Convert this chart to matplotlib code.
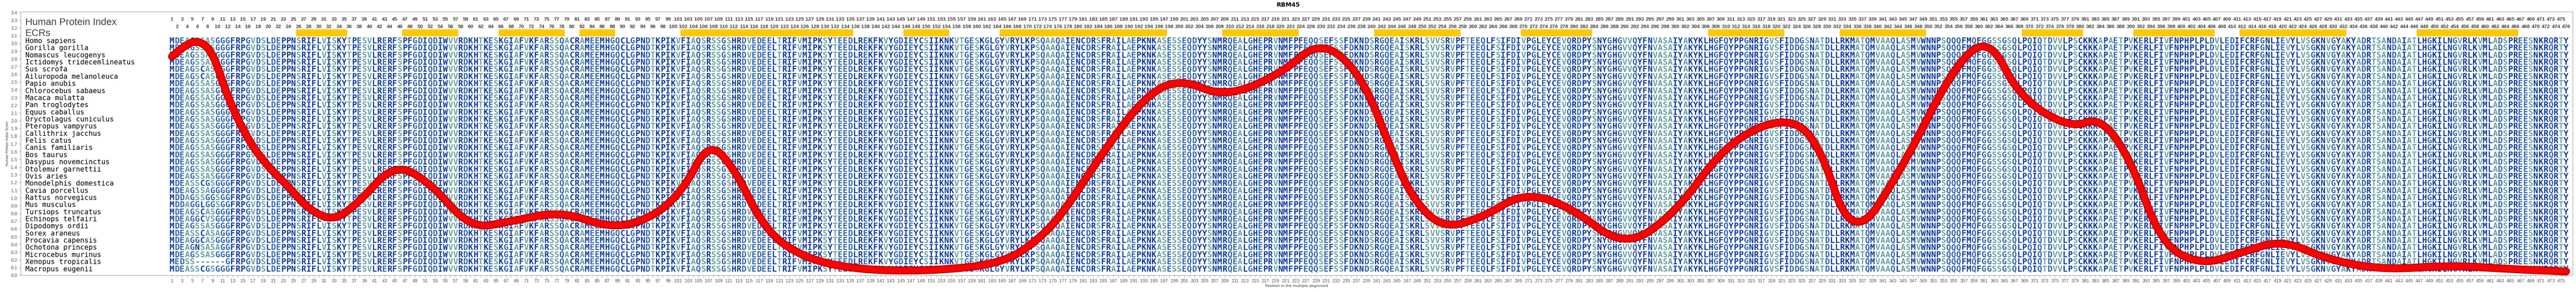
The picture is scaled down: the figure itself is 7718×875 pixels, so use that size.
import matplotlib
matplotlib.use("Agg")
import matplotlib.pyplot as plt
from matplotlib.path import Path
from matplotlib.patches import PathPatch, Rectangle

# alignment columns (human numbering, 225-226 absent)
positions = list(range(1, 225)) + list(range(227, 477))

human = ("MDEAGSSASGGGFRPGVDSLDEPPNSRIFLVISKYTPESVLRERFSPFGDIQDIWVVRDKHTKESKGIAFVKFARSSQ"
         "ACRAMEEMHGQCLGPNDTKPIKVFIAQSRSSGSHRDVEDEELTRIFVMIPKSYTEEDLREKFKVYGDIEYCSIIKNKV"
         "TGESKGLGYVRYLKPSQAAQAIENCDRSFRAILAEPKNKASESSEQDYYSNMRQEALGHEPRVNMFPFEQQSEFSSFDK"
         "NDSRGQEAISKRLSVVSRVPFTEEQLFSIFDIVPGLEYCEVQRDPYSNYGHGVVQYFNVASAIYAKYKLHGFQYPPGN"
         "RIGVSFIDDGSNATDLLRKMATQMVAAQLASMVWNNPSQQQFMQFGGSSGSQLPQIQTDVVLPSCKKKAPAETPVKERL"
         "FIVFNPHPLPLDVLEDIFCRFGNLIEVYLVSGKNVGYAKYADRTSANDAIATLHGKILNGVRLKVMLADSPREESNKRQRTY")

species = ["Homo sapiens", "Gorilla gorilla", "Nomascus leucogenys", "Ictidomys tridecemlineatus",
           "Sus scrofa", "Ailuropoda melanoleuca", "Papio anubis", "Chlorocebus sabaeus",
           "Macaca mulatta", "Pan troglodytes", "Equus caballus", "Oryctolagus cuniculus",
           "Pteropus vampyrus", "Callithrix jacchus", "Felis catus", "Canis familiaris",
           "Bos taurus", "Dasypus novemcinctus", "Otolemur garnettii", "Ovis aries",
           "Monodelphis domestica", "Cavia porcellus", "Rattus norvegicus", "Mus musculus",
           "Tursiops truncatus", "Echinops telfairi", "Dipodomys ordii", "Sorex araneus",
           "Procavia capensis", "Ochotona princeps", "Microcebus murinus", "Xenopus tropicalis",
           "Macropus eugenii"]

# N-terminal residues that differ from human
heads = {
    "Sus scrofa": "MDEAGSCASGGGF", "Ailuropoda melanoleuca": "MDEAGSCASGGGF",
    "Monodelphis domestica": "MDEASSCGSGGGF", "Cavia porcellus": "MDEAGSSAGGGGF",
    "Rattus norvegicus": "MDDAGSSGGSGGF", "Mus musculus": "MDDAGGLGGSGGF",
    "Tursiops truncatus": "MDEAGSCASGGGF", "Echinops telfairi": "MDEAGGCVSGGGF",
    "Sorex araneus": "MDEASSCASAGGF", "Procavia capensis": "MDEAGGCASGGGF",
    "Ochotona princeps": "MDEAGNSASAGGF", "Xenopus tropicalis": "MEDSS------GF",
    "Macropus eugenii": "MDEASSCGSGGGF",
}

# conserved regions (yellow bars), human positions
ecrs = [(26, 35), (47, 57), (66, 78), (82, 88), (102, 135), (146, 154), (165, 197),
        (209, 223), (241, 257), (270, 283), (307, 321), (333, 349), (369, 380),
        (391, 406), (412, 432), (447, 466)]

# protein index curve: (position, score)
curve_pos = [1, 3, 6, 9, 12, 16, 20, 24, 28, 33, 38, 45, 52, 60, 68, 78, 88, 96, 102, 107,
             112, 118, 125, 135, 150, 165, 172, 177, 185, 193, 200, 209, 220, 230, 238,
             244, 248, 254, 262, 270, 279, 290, 300, 310, 321, 328, 335, 345, 355, 362,
             368, 378, 384, 390, 396, 404, 412, 420, 429, 440, 453, 465, 476]
curve_val = [2.83, 2.95, 3.05, 2.9, 2.3, 1.75, 1.4, 1.15, 0.85, 0.7, 0.95, 1.45, 1.2, 0.6,
             0.7, 0.83, 0.6, 0.75, 1.1, 1.73, 1.4, 0.6, 0.25, 0.08, 0.05, 0.15, 0.45,
             0.8, 1.6, 2.3, 2.55, 2.3, 2.6, 3.05, 2.6, 1.6, 1.0, 0.6, 0.75, 1.07, 0.9,
             0.35, 0.8, 1.7, 2.05, 1.8, 0.4, 1.4, 2.7, 3.09, 2.3, 1.9, 2.05, 1.5, 0.4,
             0.13, 0.3, 0.46, 0.2, 0.07, 0.13, 0.08, 0.05]


def col_of(p):
    return positions.index(p) if p in positions else min(range(len(positions)), key=lambda i: abs(positions[i] - p))


seq_h = human[:224] + human[226:] if len(human) >= 476 else human
seq_h = (seq_h + "-" * len(positions))[:len(positions)]


def res_color(c):
    if c in "SATV-":
        return "#6a9fa2"
    if c in "GEQD":
        return "#2f62a8"
    return "#0a399a"


num_font = ["Liberation Sans Narrow", "Liberation Sans", "DejaVu Sans"]

fig = plt.figure(figsize=(77.18, 8.75), dpi=100)
ax = fig.add_axes([62 / 7718, 1 - 825 / 875, (7708 - 62) / 7718, (825 - 35) / 875])
ax.set_xlim(-29.9, 474.3)
ax.set_ylim(0, 3.41)

row_y = [3.03 - i * 0.0922 for i in range(len(species))]
for sp, y in zip(species, row_y):
    ax.text(-29, y, sp, family="DejaVu Sans Mono", fontsize=15, va="center", ha="left", color="black")
    s = heads.get(sp, "") + seq_h[len(heads.get(sp, "")):]
    for i, c in enumerate(s):
        ax.text(i, y, c, family="DejaVu Sans Mono", fontweight="bold", fontsize=17.5,
                va="center", ha="center", color=res_color(c))

for i, p in enumerate(positions):
    ax.text(i, 3.31 if p % 2 else 3.215, str(p), fontsize=11, fontweight="bold", family=num_font,
            color="#404040", ha="center", va="center")

for a, b in ecrs:
    x0, x1 = col_of(a), col_of(b)
    ax.add_patch(Rectangle((x0 - 0.5, 3.095), x1 - x0 + 1, 0.085, color="#ffc800", zorder=1))

ax.text(-29, 3.27, "Human Protein Index", fontsize=21, color="#404040", va="center", family=num_font)
ax.text(-29, 3.13, "ECRs", fontsize=21, color="#404040", va="center", family=num_font)

# smooth curve through read points
xs = [col_of(p) for p in curve_pos]
verts = [(xs[0], curve_val[0])]
codes = [Path.MOVETO]
for k in range(1, len(xs) - 1):
    mx, my = (xs[k] + xs[k + 1]) / 2, (curve_val[k] + curve_val[k + 1]) / 2
    verts += [(xs[k], curve_val[k]), (mx, my)]
    codes += [Path.CURVE3, Path.CURVE3]
verts.append((xs[-1], curve_val[-1]))
codes.append(Path.LINETO)
path = Path(verts, codes)
ax.add_patch(PathPatch(path, fill=False, lw=17, edgecolor="#b00000", capstyle="round", zorder=5))
ax.add_patch(PathPatch(path, fill=False, lw=13, edgecolor="#ff0000", capstyle="round", zorder=6))

ax.set_xticks(range(len(positions)))
ax.set_xticklabels([str(p) if p % 2 else "" for p in positions], fontsize=10, family=num_font)
ax.set_yticks([i / 10 for i in range(35)])
ax.set_yticklabels([f"{i / 10:.1f}" for i in range(35)], fontsize=10, family=num_font)
ax.tick_params(colors="#999999", labelcolor="#555555", length=4)
for s in ax.spines.values():
    s.set_color("#888888")
ax.set_xlabel("Position in the multiple alignment", fontsize=8, color="#333333", labelpad=2)
ax.set_ylabel("Human Protein Index Score", fontsize=7, color="#333333")
fig.text(0.5, 1 - 15 / 875, "RBM45", fontsize=13, fontweight="bold", ha="center", va="center")

fig.savefig("out.png", dpi=100)
